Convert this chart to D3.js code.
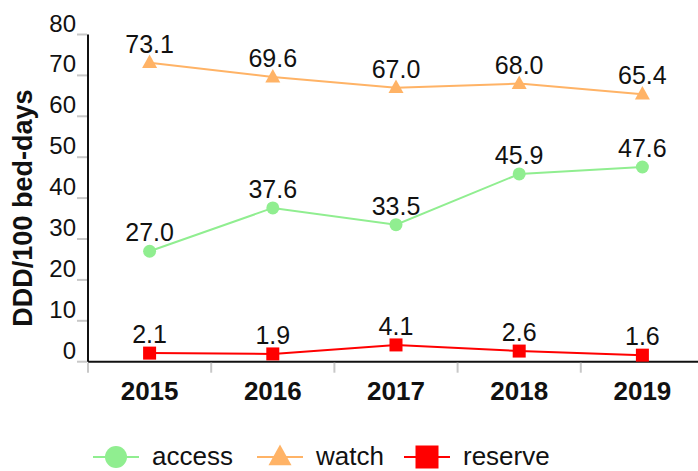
<!DOCTYPE html>
<html>
<head>
<meta charset="utf-8">
<script src="https://cdn.jsdelivr.net/npm/d3@7"></script>
<style>
  body { margin: 0; background: #fff; }
  svg { display: block; font-family: "Liberation Sans", Arial, sans-serif; }
</style>
</head>
<body>
<svg id="chart" width="698" height="471"></svg>
<script>
// Antibiotic consumption by AWaRe group, DDD per 100 bed-days
const years = ["2015", "2016", "2017", "2018", "2019"];
const access = [27.0, 37.6, 33.5, 45.9, 47.6];
const watch = [73.1, 69.6, 67.0, 68.0, 65.4];
const reserve = [2.1, 1.9, 4.1, 2.6, 1.6];
const yTicks = [0, 10, 20, 30, 40, 50, 60, 70, 80];

const series = [
  { name: "access", values: access, color: "#90ee90", shape: "circle" },
  { name: "watch", values: watch, color: "#ffb366", shape: "triangle" },
  { name: "reserve", values: reserve, color: "#ff0000", shape: "square" }
];

const svg = d3.select("#chart");
const plotLeft = 88, plotTop = 34.5, plotBottom = 361.7, plotRight = 704;

const x = d3.scaleBand().domain(years).range([plotLeft, plotRight]);
const y = d3.scaleLinear().domain([0, 80]).range([plotBottom, plotTop]);

// x axis: baseline, separators between years, bold year labels
const xg = svg.append("g");
xg.append("line").attr("x1", plotLeft).attr("x2", plotRight).attr("y1", plotBottom).attr("y2", plotBottom)
  .attr("stroke", "#111").attr("stroke-width", 2);
const bounds = years.map(d => x(d)).concat([plotRight]);
xg.selectAll(".sep").data(bounds).join("line")
  .attr("x1", d => d).attr("x2", d => d).attr("y1", plotBottom + 1).attr("y2", plotBottom + 11)
  .attr("stroke", "#c8c8c8").attr("stroke-width", 2);
xg.selectAll(".yl").data(years).join("text")
  .attr("x", d => x(d) + x.bandwidth() / 2).attr("y", plotBottom + 38)
  .attr("text-anchor", "middle").attr("font-size", 26).attr("font-weight", "bold")
  .attr("fill", "#111").text(d => d);

// y axis: spine, grey ticks, labels sitting above each tick
const yg = svg.append("g");
yg.append("line").attr("x1", plotLeft).attr("x2", plotLeft).attr("y1", plotTop).attr("y2", plotBottom)
  .attr("stroke", "#111").attr("stroke-width", 2);
yg.selectAll(".tk").data(yTicks).join("line")
  .attr("x1", plotLeft - 11).attr("x2", plotLeft - 1).attr("y1", d => y(d)).attr("y2", d => y(d))
  .attr("stroke", "#c8c8c8").attr("stroke-width", 2);
yg.selectAll(".tl").data(yTicks).join("text")
  .attr("x", plotLeft - 12).attr("y", d => y(d) - 3)
  .attr("text-anchor", "end").attr("font-size", 24).attr("fill", "#111").text(d => d);

svg.append("text")
  .attr("transform", `translate(32, ${(plotTop + plotBottom) / 2 + 10}) rotate(-90)`)
  .attr("text-anchor", "middle").attr("font-size", 27).attr("font-weight", "bold")
  .attr("fill", "#111").text("DDD/100 bed-days");

// marker drawing helper
function marker(sel, shape, size, color) {
  if (shape === "circle") {
    sel.append("circle").attr("r", size).attr("fill", color);
  } else if (shape === "triangle") {
    const h = size * 1.8;
    sel.append("path").attr("d", `M0,${-h * 0.6}L${size},${h * 0.4}L${-size},${h * 0.4}Z`).attr("fill", color);
  } else {
    sel.append("rect").attr("x", -size).attr("y", -size).attr("width", size * 2).attr("height", size * 2).attr("fill", color);
  }
}

const line = d3.line().x((d, i) => x(years[i]) + x.bandwidth() / 2).y(d => y(d));

series.forEach(s => {
  const g = svg.append("g");
  g.append("path").attr("d", line(s.values)).attr("fill", "none")
    .attr("stroke", s.color).attr("stroke-width", 2);
  s.values.forEach((v, i) => {
    const px = x(years[i]) + x.bandwidth() / 2, py = y(v);
    const m = g.append("g").attr("transform", `translate(${px},${py})`);
    marker(m, s.shape, s.shape === "circle" ? 6.5 : (s.shape === "triangle" ? 7.5 : 6.5), s.color);
    g.append("text").attr("x", px).attr("y", py - 10)
      .attr("text-anchor", "middle").attr("font-size", 25).attr("fill", "#111")
      .text(v.toFixed(1));
  });
});

// legend
const legendX = [116, 280, 427];
series.forEach((s, i) => {
  const cx = legendX[i], cy = 457;
  const g = svg.append("g");
  g.append("line").attr("x1", cx - 23).attr("x2", cx + 23).attr("y1", cy).attr("y2", cy)
    .attr("stroke", s.color).attr("stroke-width", 2);
  const m = g.append("g").attr("transform", `translate(${cx},${cy})`);
  marker(m, s.shape, s.shape === "circle" ? 11 : 11.5, s.color);
  g.append("text").attr("x", cx + 36).attr("y", cy + 8).attr("font-size", 26)
    .attr("fill", "#111").text(s.name);
});
</script>
</body>
</html>
